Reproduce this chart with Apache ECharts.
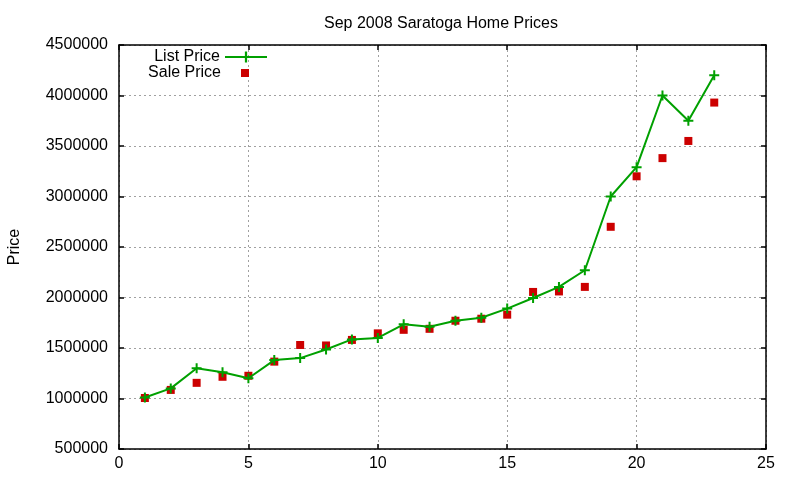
<!DOCTYPE html>
<html>
<head>
<meta charset="utf-8">
<script src="https://cdn.jsdelivr.net/npm/echarts@6/dist/echarts.min.js"></script>
<style>
  html, body { margin: 0; padding: 0; background: #fff; }
  #chart { width: 800px; height: 480px; }
</style>
</head>
<body>
<div id="chart"></div>
<script>
// month index of the listing
const days = [1, 2, 3, 4, 5, 6, 7, 8, 9, 10, 11, 12, 13, 14, 15, 16, 17, 18, 19, 20, 21, 22, 23]
const listPrice = [1010000, 1100000, 1300000, 1260000, 1200000, 1380000, 1400000, 1485000, 1585000, 1600000, 1735000, 1710000, 1770000, 1800000, 1890000, 1995000, 2105000, 2270000, 3000000, 3290000, 4000000, 3750000, 4200000]
const salePrice = [1005000, 1085000, 1155000, 1215000, 1225000, 1365000, 1530000, 1525000, 1580000, 1645000, 1680000, 1690000, 1770000, 1790000, 1830000, 2055000, 2060000, 2105000, 2700000, 3200000, 3380000, 3550000, 3930000]

const FONT = 'Liberation Sans, Arial, sans-serif'
const plus = 'path://M4,0 H6 V4 H10 V6 H6 V10 H4 V6 H0 V4 H4 Z'

const chart = echarts.init(document.getElementById('chart'))

const grid = { left: 119, right: 34, top: 45, bottom: 31, outerBoundsMode: 'none' }
const gridLine = { show: true, lineStyle: { color: '#a0a0a0', width: 1, type: [2, 3] } }
const frame = { show: true, onZero: false, lineStyle: { color: '#000', width: 1.5 } }
const tick = { show: true, inside: true, length: 5, lineStyle: { color: '#000', width: 1.5 } }

const option = {
  animation: false,
  backgroundColor: '#fff',
  textStyle: { fontFamily: FONT },
  title: {
    text: 'Sep 2008 Saratoga Home Prices',
    left: 436,
    textAlign: 'center',
    top: 11,
    textStyle: { fontFamily: FONT, fontSize: 16, fontWeight: 'normal', color: '#000' }
  },
  legend: [
    {
      data: ['List Price'],
      right: 527,
      top: 44,
      itemWidth: 42,
      itemHeight: 14,
      align: 'right',
      textStyle: { fontFamily: FONT, fontSize: 16, color: '#000' }
    },
    {
      data: [{ name: 'Sale Price', icon: 'path://M0,0 M42,14 M15,3 H23 V11 H15 Z' }],
      right: 527,
      top: 60,
      itemWidth: 42,
      itemHeight: 14,
      align: 'right',
      textStyle: { fontFamily: FONT, fontSize: 16, color: '#000' }
    }
  ],
  grid: grid,
  xAxis: [
    {
      type: 'value', min: 0, max: 25, interval: 5,
      axisLine: frame, axisTick: tick, splitLine: gridLine,
      axisLabel: { fontFamily: FONT, fontSize: 16, color: '#000', margin: 7 }
    },
    {
      type: 'value', position: 'top', min: 0, max: 25, interval: 5,
      axisLine: frame, axisTick: tick, splitLine: { show: false },
      axisLabel: { show: false }
    }
  ],
  yAxis: [
    {
      type: 'value', min: 500000, max: 4500000, interval: 500000,
      name: 'Price', nameLocation: 'middle', nameGap: 96, nameRotate: 90,
      nameTextStyle: { fontFamily: FONT, fontSize: 16, color: '#000' },
      axisLine: frame, axisTick: tick, splitLine: gridLine,
      axisLabel: { fontFamily: FONT, fontSize: 16, color: '#000', margin: 11, formatter: v => String(v) }
    },
    {
      type: 'value', position: 'right', min: 500000, max: 4500000, interval: 500000,
      axisLine: frame, axisTick: tick, splitLine: { show: false },
      axisLabel: { show: false }
    }
  ],
  series: [
    {
      name: 'List Price',
      type: 'line',
      data: days.map((d, i) => [d, listPrice[i]]),
      symbol: plus,
      symbolSize: 10,
      showAllSymbol: true,
      color: '#00a000',
      lineStyle: { color: '#00a000', width: 2 },
      itemStyle: { color: '#00a000' }
    },
    {
      name: 'Sale Price',
      type: 'scatter',
      data: days.map((d, i) => [d, salePrice[i]]),
      symbol: 'rect',
      symbolSize: 8,
      color: '#cc0000',
      itemStyle: { color: '#cc0000', opacity: 1 }
    }
  ]
}

chart.setOption(option)
</script>
</body>
</html>
